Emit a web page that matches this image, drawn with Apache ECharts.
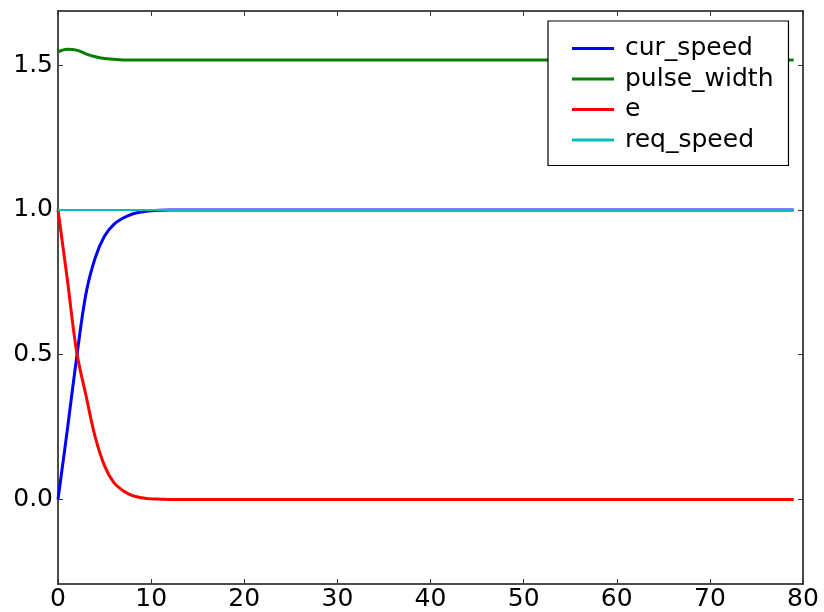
<!DOCTYPE html>
<html>
<head>
<meta charset="utf-8">
<script src="https://cdn.jsdelivr.net/npm/echarts@6/dist/echarts.min.js"></script>
<style>
  html, body { margin: 0; padding: 0; background: #fff; }
  #chart { width: 824px; height: 612px; }
</style>
</head>
<body>
<div id="chart"></div>
<script>
// x = 0..79, one sample per step
const steps = Array.from({ length: 80 }, (_, i) => i);

// values for the first steps, then steady
const curSpeedHead = [0, 0.24, 0.49, 0.71, 0.835, 0.91, 0.95, 0.972, 0.986, 0.993, 0.997, 0.999];
const curSpeedTail = 1.0;
const pulseHead = [1.546, 1.555, 1.552, 1.539, 1.529, 1.523, 1.52, 1.518];
const pulseTail = 1.518;
const errHead = [1.0, 0.76, 0.51, 0.36, 0.215, 0.116, 0.058, 0.03, 0.013, 0.006, 0.002, 0.001];
const errTail = 0.0;
const reqSpeedValue = 1.0;

const xTicks = [0, 10, 20, 30, 40, 50, 60, 70, 80];
const yTicks = [0, 0.5, 1.0, 1.5];

function fill(head, tail) {
    return steps.map(i => [i, i < head.length ? head[i] : tail]);
}

const curSpeed = fill(curSpeedHead, curSpeedTail);
const pulseWidth = fill(pulseHead, pulseTail);
const err = fill(errHead, errTail);
const reqSpeed = steps.map(i => [i, reqSpeedValue]);

const font = 'DejaVu Sans';
const axisLine = { show: true, onZero: false, lineStyle: { color: '#111', width: 1.5 } };
const tick = { show: true, inside: true, length: 5, lineStyle: { color: '#333', width: 1 } };
const yMin = -0.292, yMax = 1.687;

const chart = echarts.init(document.getElementById('chart'));
chart.setOption({
    animation: false,
    backgroundColor: '#fff',
    grid: { left: 58, top: 11, right: 21, bottom: 25 },
    xAxis: [
        {
            type: 'value', min: 0, max: 80, position: 'bottom',
            axisLine, splitLine: { show: false },
            axisTick: Object.assign({}, tick, { customValues: xTicks }),
            axisLabel: { customValues: xTicks, fontFamily: font, fontSize: 25, color: '#000', margin: 3 }
        },
        {
            type: 'value', min: 0, max: 80, position: 'top',
            axisLine, splitLine: { show: false },
            axisTick: Object.assign({}, tick, { customValues: xTicks }),
            axisLabel: { show: false }
        }
    ],
    yAxis: [
        {
            type: 'value', min: yMin, max: yMax, position: 'left',
            axisLine, splitLine: { show: false },
            axisTick: Object.assign({}, tick, { customValues: yTicks }),
            axisLabel: {
                customValues: yTicks, fontFamily: font, fontSize: 25, color: '#000', margin: 5,
                formatter: v => v.toFixed(1)
            }
        },
        {
            type: 'value', min: yMin, max: yMax, position: 'right',
            axisLine, splitLine: { show: false },
            axisTick: Object.assign({}, tick, { customValues: yTicks }),
            axisLabel: { show: false }
        }
    ],
    legend: {
        orient: 'vertical',
        left: 548, top: 21,
        padding: [15, 15, 13, 24],
        icon: 'rect',
        itemWidth: 42, itemHeight: 3, itemGap: 5.5,
        backgroundColor: '#fff',
        borderColor: '#000', borderWidth: 1.2, borderRadius: 0,
        textStyle: { fontFamily: font, fontSize: 25, color: '#000', lineHeight: 25, padding: [0, 0, 0, 6] },
        data: ['cur_speed', 'pulse_width', 'e', 'req_speed']
    },
    series: [
        { name: 'cur_speed', type: 'line', data: curSpeed, symbol: 'none', smooth: 0.35, color: '#0000ff', lineStyle: { width: 3 } },
        { name: 'pulse_width', type: 'line', data: pulseWidth, symbol: 'none', smooth: 0.35, color: '#008000', lineStyle: { width: 3 } },
        { name: 'e', type: 'line', data: err, symbol: 'none', smooth: 0.35, color: '#ff0000', lineStyle: { width: 3 } },
        { name: 'req_speed', type: 'line', data: reqSpeed, symbol: 'none', color: '#00bfbf', lineStyle: { width: 2 } }
    ]
});
</script>
</body>
</html>
